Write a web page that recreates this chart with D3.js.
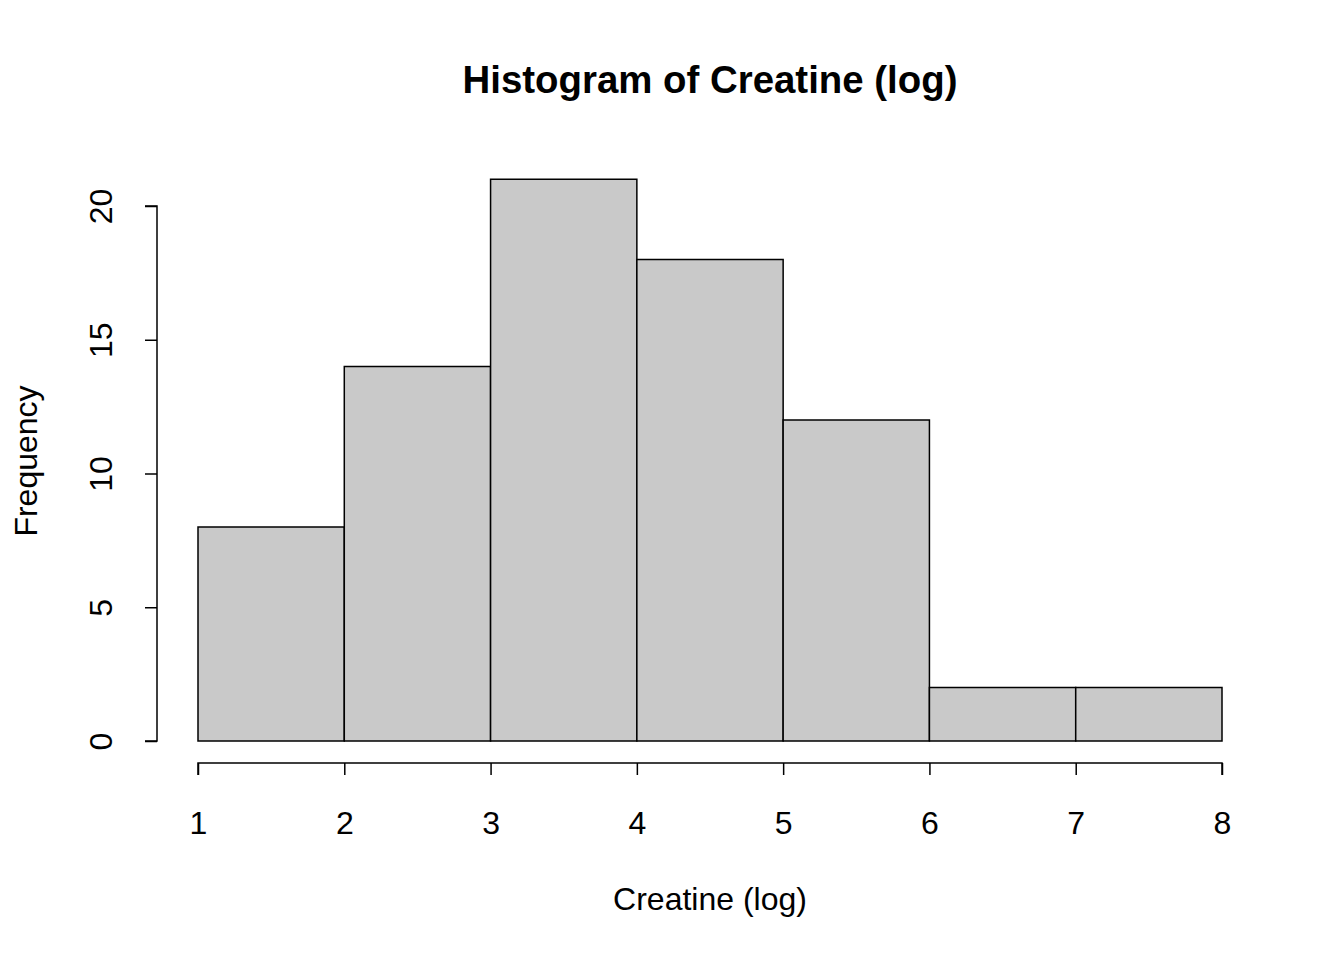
<!DOCTYPE html>
<html>
<head>
<meta charset="utf-8">
<script src="https://cdn.jsdelivr.net/npm/d3@7/dist/d3.min.js"></script>
<style>
  body { margin: 0; background: white; }
  svg text { font-family: "Liberation Sans", Arial, sans-serif; fill: black; }
</style>
</head>
<body>
<div id="chart"><svg></svg></div>
<script>
var width = 1344,
    height = 960;

// histogram bins (break points) and counts
var breaks = [1, 2, 3, 4, 5, 6, 7, 8];
var counts = [8, 14, 21, 18, 12, 2, 2];
var yTicks = [0, 5, 10, 15, 20];
var xTicks = [1, 2, 3, 4, 5, 6, 7, 8];

var bins = counts.map(function (c, i) {
  return { x0: breaks[i], x1: breaks[i + 1], n: c };
});

var x = d3.scaleLinear().domain([1, 8]).range([198, 1222]);
var y = d3.scaleLinear().domain([0, 20]).range([741, 206]);

var svg = d3.select("#chart svg")
  .attr("width", width)
  .attr("height", height);

// bars
svg.append("g")
    .attr("class", "bars")
  .selectAll("rect")
    .data(bins)
  .enter().append("rect")
    .attr("x", function (d) { return x(d.x0); })
    .attr("y", function (d) { return y(d.n); })
    .attr("width", function (d) { return x(d.x1) - x(d.x0); })
    .attr("height", function (d) { return y(0) - y(d.n); })
    .attr("fill", "#c9c9c9")
    .attr("stroke", "black")
    .attr("stroke-width", 1.5);

// x axis (R style, detached)
var xAxis = svg.append("g")
  .attr("transform", "translate(0,763)")
  .call(d3.axisBottom(x).tickValues(xTicks).tickSize(12).tickFormat(d3.format("d")));
xAxis.selectAll("path, line").attr("stroke", "black").attr("stroke-width", 1.5);
xAxis.select(".domain").attr("d", "M" + x(1) + ",12V0H" + x(8) + "V12");
xAxis.selectAll("text")
  .attr("font-size", 32)
  .attr("y", 71)
  .attr("dy", null);

// y axis
var yAxis = svg.append("g")
  .attr("transform", "translate(157,0)")
  .call(d3.axisLeft(y).tickValues(yTicks).tickSize(12).tickFormat(d3.format("d")));
yAxis.selectAll("path, line").attr("stroke", "black").attr("stroke-width", 1.5);
yAxis.select(".domain").attr("d", "M-12," + y(0) + "H0V" + y(20) + "H-12");
yAxis.selectAll("text")
  .attr("font-size", 32)
  .attr("x", 0)
  .attr("y", 0)
  .attr("dy", null)
  .attr("text-anchor", "middle")
  .attr("transform", "translate(-45,0) rotate(-90)");

// title
svg.append("text")
  .attr("x", 710)
  .attr("y", 93)
  .attr("text-anchor", "middle")
  .attr("font-size", 38.4)
  .attr("font-weight", "bold")
  .text("Histogram of Creatine (log)");

// axis labels
svg.append("text")
  .attr("x", 710)
  .attr("y", 910)
  .attr("text-anchor", "middle")
  .attr("font-size", 32)
  .text("Creatine (log)");

svg.append("text")
  .attr("transform", "translate(37,461) rotate(-90)")
  .attr("text-anchor", "middle")
  .attr("font-size", 32)
  .text("Frequency");
</script>
</body>
</html>
